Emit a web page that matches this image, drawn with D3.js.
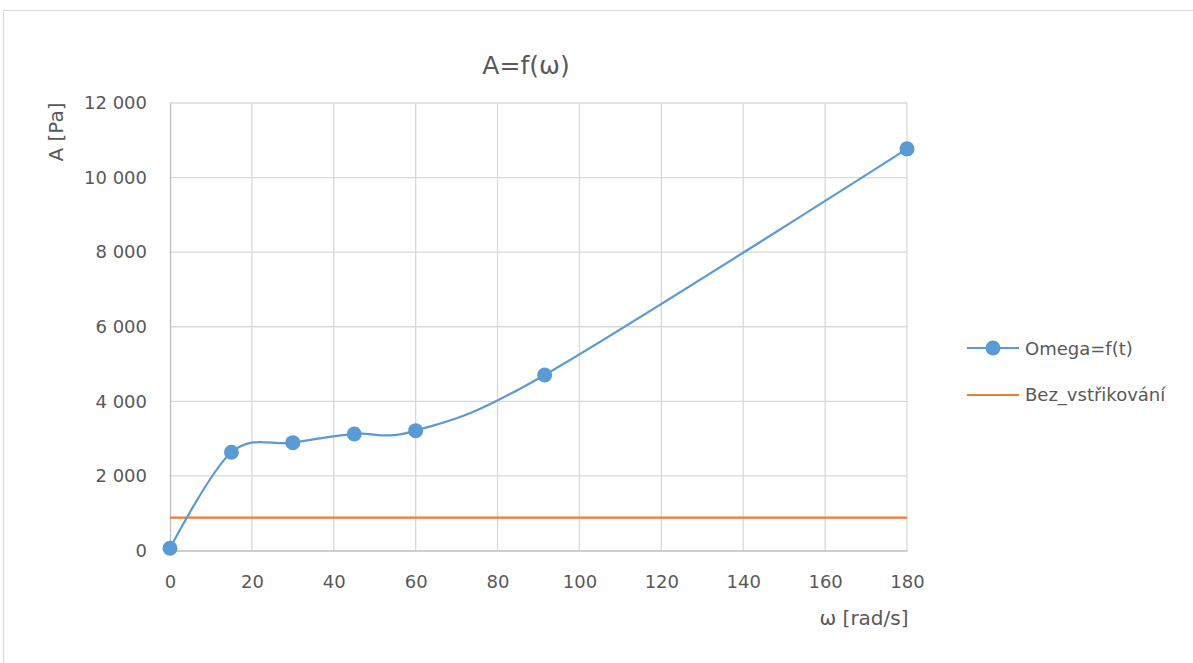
<!doctype html>
<html>
<head>
<meta charset="utf-8">
<script src="https://d3js.org/d3.v7.min.js"></script>
<style>
  body { margin: 0; background: #fff; }
  text { font-family: "DejaVu Sans", sans-serif; fill: #595959; }
</style>
</head>
<body>
<svg width="1193" height="663"></svg>
<script>
// data
var omega = [0, 15, 30, 45, 60, 91.5, 180];
var amplitude = [60, 2634, 2892, 3125, 3214, 4708, 10770];
var bezVstrikovani = 880;
var xTicks = [0, 20, 40, 60, 80, 100, 120, 140, 160, 180];
var yTicks = [0, 2000, 4000, 6000, 8000, 10000, 12000];

var svg = d3.select("svg");

// chart frame
svg.append("path")
   .attr("d", "M3.5,663 V10.5 H1193")
   .attr("fill", "none")
   .attr("stroke", "#d9d9d9");

var plotL = 170, plotR = 907, plotT = 103, plotB = 550.5;

var xScale = d3.scaleLinear().domain([0, 180]).range([plotL, plotR]),
    yScale = d3.scaleLinear().domain([0, 12000]).range([plotB, plotT]);

var fmt = function(d) { return d3.format(",")(d).replace(/,/g, " "); };

// grid
var g = svg.append("g");
g.selectAll(".vg").data(xTicks.slice(1)).enter().append("line")
 .attr("x1", d => xScale(d)).attr("x2", d => xScale(d))
 .attr("y1", plotT).attr("y2", plotB)
 .attr("stroke", "#d9d9d9").attr("stroke-width", 1.3);
g.selectAll(".hg").data(yTicks.slice(1)).enter().append("line")
 .attr("x1", plotL).attr("x2", plotR)
 .attr("y1", d => yScale(d)).attr("y2", d => yScale(d))
 .attr("stroke", "#d9d9d9").attr("stroke-width", 1.3);

// axes
var xAxis = svg.append("g")
   .attr("transform", "translate(0," + plotB + ")")
   .call(d3.axisBottom(xScale).tickValues(xTicks).tickSize(0).tickPadding(25));
var yAxis = svg.append("g")
   .attr("transform", "translate(" + plotL + ",0)")
   .call(d3.axisLeft(yScale).tickValues(yTicks).tickFormat(fmt).tickSize(0).tickPadding(23));
[xAxis, yAxis].forEach(function(a) {
  a.select(".domain").attr("stroke", "#bfbfbf").attr("stroke-width", 1.3);
  a.selectAll("text").attr("font-size", 18).attr("fill", "#595959")
   .attr("font-family", "'DejaVu Sans', sans-serif");
});

// horizontal reference line
svg.append("line")
   .attr("x1", xScale(0)).attr("x2", xScale(180))
   .attr("y1", yScale(bezVstrikovani)).attr("y2", yScale(bezVstrikovani))
   .attr("stroke", "#ed7d31").attr("stroke-width", 2.2);

// smoothed series
var pts = omega.map((d, i) => [d, amplitude[i]]);
var line = d3.line()
  .x(d => xScale(d[0])).y(d => yScale(d[1]))
  .curve(d3.curveCardinal.tension(0));
svg.append("path").datum(pts)
   .attr("d", line)
   .attr("fill", "none")
   .attr("stroke", "#5b9bd5").attr("stroke-width", 2.2);
svg.selectAll(".pt").data(pts).enter().append("circle")
   .attr("cx", d => xScale(d[0])).attr("cy", d => yScale(d[1]))
   .attr("r", 7.5).attr("fill", "#5b9bd5");

// title and axis labels
svg.append("text").attr("x", 526).attr("y", 74)
   .attr("text-anchor", "middle").attr("font-size", 25).text("A=f(ω)");
svg.append("text")
   .attr("transform", "translate(63,132) rotate(-90)")
   .attr("text-anchor", "middle").attr("font-size", 20).text("A [Pa]");
svg.append("text").attr("x", 864).attr("y", 625)
   .attr("text-anchor", "middle").attr("font-size", 20).text("ω [rad/s]");

// legend
var legend = svg.append("g");
legend.append("line").attr("x1", 967).attr("x2", 1019).attr("y1", 348).attr("y2", 348)
      .attr("stroke", "#5b9bd5").attr("stroke-width", 2.2);
legend.append("circle").attr("cx", 993).attr("cy", 348).attr("r", 7.5).attr("fill", "#5b9bd5");
legend.append("text").attr("x", 1025).attr("y", 355).attr("font-size", 18).text("Omega=f(t)");
legend.append("line").attr("x1", 967).attr("x2", 1019).attr("y1", 395).attr("y2", 395)
      .attr("stroke", "#ed7d31").attr("stroke-width", 2.2);
legend.append("text").attr("x", 1025).attr("y", 401).attr("font-size", 18).text("Bez_vstřikování");
</script>
</body>
</html>
